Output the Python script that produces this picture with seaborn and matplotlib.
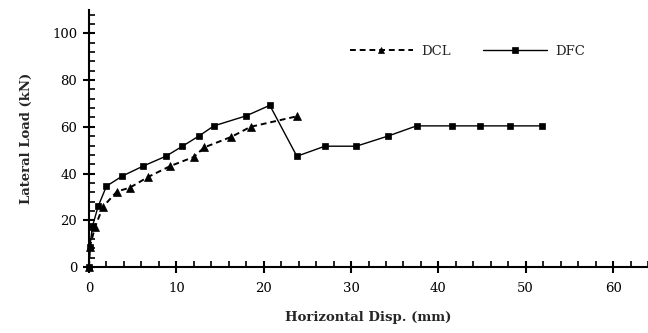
import matplotlib
matplotlib.use("Agg")
import matplotlib.pyplot as plt
import seaborn as sns
from matplotlib.ticker import MultipleLocator

sns.set_style("white")
plt.rcParams['font.family'] = ['DejaVu Serif']

dcl_x = [0, 0.1, 0.7, 1.6, 3.2, 4.7, 6.8, 9.3, 12.0, 13.2, 16.3, 18.5, 23.8]
dcl_y = [0, 8.7, 17.2, 25.8, 32.3, 34.0, 38.6, 43.2, 47.1, 51.2, 55.7, 60.0, 64.5]

dfc_x = [0, 0.1, 0.4, 1.05, 2.0, 3.8, 6.2, 8.8, 10.7, 12.6, 14.3, 18.0, 20.7,
         23.8, 27.0, 30.6, 34.2, 37.5, 41.6, 44.8, 48.2, 51.9]
dfc_y = [0, 8.7, 17.5, 26.0, 34.6, 38.9, 43.2, 47.4, 51.7, 56.1, 60.4, 64.7, 69.2,
         47.4, 51.7, 51.7, 56.0, 60.4, 60.4, 60.4, 60.4, 60.4]

fig = plt.figure(figsize=(6.48, 3.33), dpi=100)
ax = fig.add_axes([89/648, 66/333, 559/648, 257/333])

sns.lineplot(x=dcl_x, y=dcl_y, sort=False, estimator=None, ax=ax, color='black',
             linewidth=1.4, marker='^', markersize=5.5,
             markeredgecolor='black', markerfacecolor='black', markeredgewidth=0.5,
             label='DCL', clip_on=False, zorder=3)
ax.lines[-1].set_dashes((3, 2))
sns.lineplot(x=dfc_x, y=dfc_y, sort=False, estimator=None, ax=ax, color='black',
             linestyle='-', linewidth=1.0, marker='s', markersize=5,
             markeredgecolor='black', markerfacecolor='black', markeredgewidth=0.5,
             label='DFC', clip_on=False, zorder=3)

ax.set_xlim(0, 64)
ax.set_ylim(0, 110)
ax.xaxis.set_major_locator(MultipleLocator(10))
ax.xaxis.set_minor_locator(MultipleLocator(2))
ax.yaxis.set_major_locator(MultipleLocator(20))
ax.yaxis.set_minor_locator(MultipleLocator(4))
ax.set_yticks([0, 20, 40, 60, 80, 100])

for s in ['top', 'right']:
    ax.spines[s].set_visible(False)
for s in ['left', 'bottom']:
    ax.spines[s].set_color('black')
    ax.spines[s].set_linewidth(1.5)

ax.tick_params(which='both', bottom=True, left=True, top=False, right=False)
ax.tick_params(which='major', direction='inout', length=9, width=1.5, colors='black',
               labelsize=9.5, pad=4)
ax.tick_params(which='minor', direction='in', length=4, width=1.2, colors='black')
ax.tick_params(axis='x', which='major', pad=6)

ax.set_xlabel('Horizontal Disp. (mm)', fontsize=9.5, fontweight='bold', labelpad=12)
ax.set_ylabel('Lateral Load (kN)', fontsize=9.5, fontweight='bold', labelpad=14)

leg = ax.legend(loc='upper left', bbox_to_anchor=(0.445, 0.91), ncol=2, frameon=False,
                fontsize=9.5, handlelength=4.8, columnspacing=2.5, handletextpad=0.6)
for h in leg.get_lines():
    h.set_markersize(4.5)

fig.savefig('out.png', dpi=100)
